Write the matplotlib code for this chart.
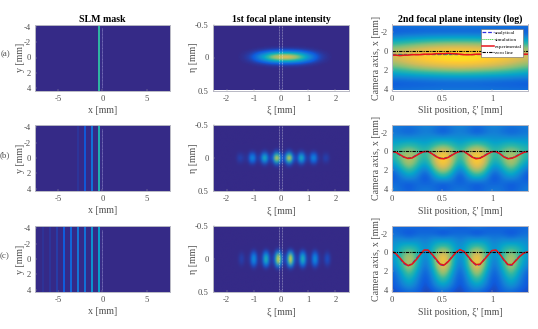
import numpy as np
import matplotlib
matplotlib.use("Agg")
import matplotlib.pyplot as plt
from matplotlib.colors import LinearSegmentedColormap

plt.rcParams['font.family'] = ['Liberation Serif', 'DejaVu Serif']
plt.rcParams['axes.unicode_minus'] = False

parula = LinearSegmentedColormap.from_list("parula", [
    "#352A87", "#0F5CDD", "#1481D6", "#06A4CA", "#2EB7A4",
    "#87BF77", "#D1BB59", "#FEC832", "#F9FB0E"])

row_names = ["(a)", "(b)", "(c)"]

# SLM mask stripes: position [mm], level
mask_x = [
    [-0.4],
    [-0.4, -1.18, -1.97, -2.76],
    [-0.4, -1.18, -1.97, -2.76, -3.55, -4.34, -5.13, -5.9, -6.7],
]
mask_level = [
    [0.5],
    [0.46, 0.2, 0.12, 0.03],
    [0.36, 0.32, 0.2, 0.22, 0.17, 0.13, 0.05, 0.03, 0.025],
]

# 1st focal plane, profiles along xi and eta (eta step 0.05)
focal_xi_start = [-2.55, -2.55, -2.5]
focal_xi = [
    [0, 0, 0, 0, 0, 0, 0, 0.01, 0.03, 0.06, 0.12, 0.22, 0.33, 0.45, 0.6, 0.72, 0.8, 0.86,
     0.88, 0.86, 0.8, 0.72, 0.6, 0.45, 0.33, 0.22, 0.12, 0.06, 0.03, 0.01, 0, 0, 0, 0, 0],
    [0, 0, 0, 0, 0, 0, 0, 0, 0, 0, 0, 0, 0.014, 0.05, 0.07, 0.05, 0.03, 0.022, 0.06, 0.216,
     0.3, 0.216, 0.06, 0.047, 0.096, 0.346, 0.48, 0.346, 0.096, 0.082, 0.176, 0.634, 0.88, 0.634,
     0.176, 0.106, 0.176, 0.634, 0.88, 0.634, 0.176, 0.082, 0.096, 0.346, 0.48, 0.346, 0.096,
     0.047, 0.06, 0.216, 0.3, 0.216, 0.06, 0.022, 0.014, 0.05, 0.07, 0.05, 0.014,
     0, 0, 0, 0, 0, 0, 0, 0, 0, 0],
    [0, 0, 0, 0, 0, 0, 0, 0, 0, 0, 0, 0, 0.007, 0.036, 0.06, 0.036, 0.007, 0.012, 0.038, 0.19,
     0.32, 0.19, 0.038, 0.025, 0.06, 0.3, 0.5, 0.3, 0.06, 0.042, 0.108, 0.54, 0.9, 0.54,
     0.108, 0.054, 0.108, 0.54, 0.9, 0.54, 0.108, 0.042, 0.06, 0.3, 0.5, 0.3, 0.06,
     0.025, 0.038, 0.19, 0.32, 0.19, 0.038, 0.015, 0.012, 0.06, 0.1, 0.06, 0.012,
     0, 0, 0, 0, 0, 0, 0, 0, 0, 0],
]
focal_eta = [
    [0, 0, 0, 0, 0, 0, 0, 0.01, 0.12, 0.6, 1, 0.6, 0.12, 0.01, 0, 0, 0, 0, 0, 0, 0],
    [0, 0, 0, 0, 0, 0, 0, 0.01, 0.1, 0.55, 1, 0.55, 0.1, 0.01, 0, 0, 0, 0, 0, 0, 0],
    [0, 0, 0, 0, 0, 0, 0, 0.05, 0.32, 0.8, 1, 0.8, 0.32, 0.05, 0, 0, 0, 0, 0, 0, 0],
]

# 2nd focal plane (log), x = 0..1.36, camera axis = -2.8..4.2
second_a = [
    [0.24, 0.25, 0.26, 0.27, 0.28, 0.27, 0.26, 0.25, 0.24],
    [0.10, 0.11, 0.12, 0.12, 0.12, 0.12, 0.12, 0.11, 0.10],
    [0.26, 0.30, 0.33, 0.35, 0.36, 0.35, 0.33, 0.30, 0.26],
    [0.50, 0.56, 0.62, 0.65, 0.66, 0.65, 0.62, 0.56, 0.50],
    [0.68, 0.76, 0.82, 0.86, 0.88, 0.86, 0.82, 0.76, 0.68],
    [0.75, 0.85, 0.92, 0.95, 0.97, 0.95, 0.92, 0.85, 0.75],
    [0.65, 0.75, 0.82, 0.86, 0.88, 0.86, 0.82, 0.75, 0.65],
    [0.47, 0.55, 0.60, 0.63, 0.65, 0.63, 0.60, 0.55, 0.47],
    [0.26, 0.29, 0.32, 0.34, 0.35, 0.34, 0.32, 0.29, 0.26],
    [0.10, 0.11, 0.12, 0.13, 0.13, 0.13, 0.12, 0.11, 0.10],
    [0.20, 0.21, 0.22, 0.23, 0.23, 0.23, 0.22, 0.21, 0.20],
]
second_b = [
    [0.26, 0.24, 0.22, 0.25, 0.28, 0.25, 0.20, 0.25, 0.28, 0.25, 0.20, 0.25, 0.28, 0.25, 0.22, 0.24, 0.26],
    [0.20, 0.17, 0.12, 0.18, 0.24, 0.18, 0.08, 0.18, 0.24, 0.18, 0.08, 0.18, 0.24, 0.18, 0.12, 0.17, 0.20],
    [0.30, 0.30, 0.30, 0.31, 0.30, 0.33, 0.33, 0.33, 0.30, 0.33, 0.33, 0.33, 0.30, 0.31, 0.30, 0.30, 0.30],
    [0.40, 0.44, 0.50, 0.44, 0.38, 0.50, 0.58, 0.50, 0.38, 0.50, 0.58, 0.50, 0.38, 0.44, 0.50, 0.44, 0.40],
    [0.48, 0.58, 0.68, 0.58, 0.48, 0.70, 0.82, 0.70, 0.48, 0.70, 0.82, 0.70, 0.48, 0.58, 0.68, 0.58, 0.48],
    [0.42, 0.60, 0.78, 0.60, 0.42, 0.78, 0.95, 0.78, 0.42, 0.78, 0.95, 0.78, 0.42, 0.60, 0.78, 0.60, 0.42],
    [0.30, 0.50, 0.72, 0.50, 0.30, 0.70, 0.90, 0.70, 0.30, 0.70, 0.90, 0.70, 0.30, 0.50, 0.72, 0.50, 0.30],
    [0.14, 0.32, 0.52, 0.34, 0.14, 0.50, 0.70, 0.50, 0.14, 0.50, 0.70, 0.50, 0.14, 0.34, 0.52, 0.32, 0.14],
    [0.08, 0.20, 0.32, 0.22, 0.05, 0.30, 0.42, 0.30, 0.05, 0.30, 0.42, 0.30, 0.05, 0.22, 0.32, 0.20, 0.08],
    [0.20, 0.16, 0.08, 0.18, 0.16, 0.16, 0.08, 0.16, 0.16, 0.16, 0.08, 0.16, 0.16, 0.18, 0.08, 0.16, 0.20],
    [0.24, 0.20, 0.14, 0.20, 0.24, 0.20, 0.14, 0.20, 0.24, 0.20, 0.14, 0.20, 0.24, 0.20, 0.14, 0.20, 0.24],
]
second_c = [
    [0.18, 0.18, 0.22, 0.18, 0.14, 0.20, 0.28, 0.20, 0.14, 0.20, 0.28, 0.20, 0.14, 0.18, 0.22, 0.18, 0.18],
    [0.18, 0.14, 0.05, 0.14, 0.16, 0.12, 0.04, 0.12, 0.16, 0.12, 0.04, 0.12, 0.16, 0.14, 0.05, 0.14, 0.18],
    [0.26, 0.28, 0.24, 0.28, 0.22, 0.32, 0.30, 0.32, 0.22, 0.32, 0.30, 0.32, 0.22, 0.28, 0.24, 0.28, 0.26],
    [0.30, 0.40, 0.46, 0.40, 0.26, 0.44, 0.54, 0.44, 0.26, 0.44, 0.54, 0.44, 0.26, 0.40, 0.46, 0.40, 0.30],
    [0.30, 0.50, 0.66, 0.50, 0.22, 0.56, 0.80, 0.56, 0.22, 0.56, 0.80, 0.56, 0.22, 0.50, 0.66, 0.50, 0.30],
    [0.28, 0.50, 0.80, 0.50, 0.16, 0.60, 0.97, 0.60, 0.16, 0.60, 0.97, 0.60, 0.16, 0.50, 0.80, 0.50, 0.28],
    [0.24, 0.44, 0.78, 0.44, 0.12, 0.54, 0.92, 0.54, 0.12, 0.54, 0.92, 0.54, 0.12, 0.44, 0.78, 0.44, 0.24],
    [0.12, 0.34, 0.64, 0.34, 0.08, 0.42, 0.78, 0.42, 0.08, 0.42, 0.78, 0.42, 0.08, 0.34, 0.64, 0.34, 0.12],
    [0.10, 0.26, 0.48, 0.26, 0.06, 0.32, 0.58, 0.32, 0.06, 0.32, 0.58, 0.32, 0.06, 0.26, 0.48, 0.26, 0.10],
    [0.10, 0.20, 0.36, 0.20, 0.06, 0.24, 0.40, 0.24, 0.06, 0.24, 0.40, 0.24, 0.06, 0.20, 0.36, 0.20, 0.10],
    [0.08, 0.10, 0.16, 0.14, 0.05, 0.10, 0.18, 0.10, 0.05, 0.14, 0.18, 0.10, 0.05, 0.14, 0.16, 0.10, 0.08],
]
second_grids = [second_a, second_b, second_c]

# Line cuts, one value every 0.04 mm of slit position
slit_x = np.arange(35) * 0.04
exp_a = [0.45, 0.45, 0.5, 0.45, 0.45, 0.4, 0.4, 0.4, 0.35, 0.35, 0.35, 0.3, 0.3, 0.3, 0.25, 0.3, 0.3, 0.35,
         0.4, 0.4, 0.4, 0.35, 0.35, 0.4, 0.35, 0.35, 0.35, 0.35, 0.35, 0.35, 0.35, 0.3, 0.35, 0.35, 0.35]
ana_a = [0.35] * 35
sim_a = [0.3] * 35
exp_b = [0.0, 0.1, 0.35, 0.6, 0.75, 0.7, 0.45, 0.2, 0.02, 0.0, 0.25, 0.55, 0.75, 0.78, 0.65, 0.4, 0.15, 0.0,
         0.0, 0.3, 0.6, 0.78, 0.72, 0.5, 0.25, 0.03, 0.02, 0.25, 0.6, 0.78, 0.72, 0.55, 0.3, 0.1, 0.0]
ana_b = [0.0, 0.15, 0.4, 0.62, 0.72, 0.65, 0.42, 0.18, 0.03, 0.03, 0.22, 0.5, 0.72, 0.75, 0.6, 0.36, 0.12, 0.0,
         0.03, 0.26, 0.55, 0.74, 0.7, 0.45, 0.2, 0.03, 0.05, 0.28, 0.55, 0.74, 0.7, 0.5, 0.25, 0.08, 0.0]
sim_b = [0.02, 0.12, 0.36, 0.6, 0.7, 0.66, 0.44, 0.2, 0.04, 0.02, 0.22, 0.52, 0.7, 0.74, 0.62, 0.38, 0.14, 0.02,
         0.02, 0.28, 0.56, 0.72, 0.7, 0.48, 0.22, 0.04, 0.04, 0.26, 0.56, 0.72, 0.68, 0.52, 0.26, 0.08, 0.02]
exp_c = [-0.1, 0.15, 0.6, 1.1, 1.4, 1.25, 0.8, 0.25, -0.25, -0.25, 0.2, 0.7, 1.25, 1.35, 1.0, 0.5, 0.0, -0.3,
         -0.1, 0.4, 0.95, 1.3, 1.25, 0.8, 0.3, -0.2, -0.25, 0.2, 0.8, 1.3, 1.3, 0.85, 0.4, 0.05, -0.05]
ana_c = [-0.15, 0.2, 0.7, 1.2, 1.45, 1.2, 0.7, 0.2, -0.2, -0.2, 0.25, 0.8, 1.3, 1.4, 0.95, 0.45, 0.02, -0.25,
         -0.05, 0.45, 1.0, 1.35, 1.3, 0.75, 0.25, -0.18, -0.2, 0.25, 0.85, 1.35, 1.35, 0.8, 0.35, 0.08, 0.0]
sim_c = [-0.2, 0.1, 0.65, 1.15, 1.35, 1.3, 0.75, 0.3, -0.2, -0.2, 0.15, 0.75, 1.2, 1.3, 1.05, 0.55, 0.05, -0.25,
         -0.1, 0.35, 0.9, 1.25, 1.3, 0.85, 0.35, -0.15, -0.2, 0.15, 0.75, 1.25, 1.25, 0.9, 0.45, 0.1, -0.05]
exp_lines = [exp_a, exp_b, exp_c]
ana_lines = [ana_a, ana_b, ana_c]
sim_lines = [sim_a, sim_b, sim_c]

W, H = 538, 329
rows_px = [(24.5, 90.5), (125, 191), (226, 292)]
cols_px = [(35, 170), (213, 349), (392, 528)]
tick_gray = "#505050"
frame = "#b8b8c4"


def px_axes(fig, col, row):
    x0, x1 = cols_px[col]
    y0, y1 = rows_px[row]
    return fig.add_axes([x0 / W, 1 - y1 / H, (x1 - x0) / W, (y1 - y0) / H])


def style(ax):
    for s in ax.spines.values():
        s.set_color(frame)
        s.set_linewidth(0.7)
    ax.tick_params(direction="in", length=1.2, width=0.3, color="#aaaaaa",
                   labelsize=6.2, labelcolor=tick_gray, pad=3)


fig = plt.figure(figsize=(W / 100, H / 100), dpi=100)

for r in range(3):
    # SLM mask
    ax = px_axes(fig, 0, r)
    ax.set_facecolor(parula(0.0))
    ax.vlines(mask_x[r], -4.3, 4.3, colors=parula(np.array(mask_level[r])), lw=1.4)
    ax.vlines([0], -3.8, 4.0, colors="#8d86c9", lw=0.5, ls=(0, (1.5, 0.5)))
    ax.set_xlim(-7.6, 7.6)
    ax.set_ylim(4.3, -4.3)
    ax.set_xticks([-5, 0, 5])
    ax.set_yticks([-4, -2, 0, 2, 4])
    ax.set_xlabel("x [mm]", fontsize=7.2, color=tick_gray, labelpad=2.2)
    ax.set_ylabel("y [mm]", fontsize=7.2, color=tick_gray, labelpad=-1)
    style(ax)
    if r == 0:
        ax.set_title("SLM mask", fontsize=7.1, fontweight="bold", pad=0.5)
    fig.text(5 / W, 1 - (sum(rows_px[r]) / 2 - 3) / H, row_names[r], fontsize=6.4,
             color=tick_gray, ha="center", va="center")

    # 1st focal plane
    ax = px_axes(fig, 1, r)
    field = np.outer(focal_eta[r], focal_xi[r])
    xs = focal_xi_start[r]
    step = 5.1 / (len(focal_xi[r]) - 1)
    ax.imshow(field, cmap=parula, vmin=0, vmax=1, aspect="auto", interpolation="bicubic",
              extent=(xs - step / 2, xs + 5.1 + step / 2, 0.525, -0.525))
    ax.vlines([-0.07, 0.05], -0.5, 0.5, colors="white", lw=0.45, ls=(0, (1.5, 1)), alpha=0.6)
    ax.set_xlim(-2.5, 2.5)
    ax.set_ylim(0.5, -0.5)
    ax.set_xticks([-2, -1, 0, 1, 2])
    ax.set_yticks([-0.5, 0, 0.5])
    ax.set_yticklabels(["-0.5", "0", "0.5"])
    ax.set_xlabel("ξ [mm]", fontsize=7.2, color=tick_gray, labelpad=2.2)
    ax.set_ylabel("η [mm]", fontsize=7.2, color=tick_gray, labelpad=-2)
    style(ax)
    if r == 0:
        ax.set_title("1st focal plane intensity", fontsize=7.1, fontweight="bold", pad=0.5)

    # 2nd focal plane
    ax = px_axes(fig, 2, r)
    grid = np.array(second_grids[r])
    dx = 1.36 / (grid.shape[1] - 1) / 2
    ax.imshow(grid, cmap=parula, vmin=0, vmax=1, aspect="auto", interpolation="bicubic",
              extent=(-dx, 1.36 + dx, 4.55, -3.15))
    ax.plot(slit_x, ana_lines[r], color="#3030e0", lw=0.9, ls=(0, (3, 1.5)), label="analytical")
    ax.plot(slit_x, sim_lines[r], color="#20c020", lw=0.7, ls=(0, (1, 1)), label="simulation")
    ax.plot(slit_x, exp_lines[r], color="#e8141c", lw=1.1, label="experimental")
    ax.plot([0, 1.36], [0, 0], color="black", lw=0.8, ls=(0, (3, 1, 1, 1)), label="zero line")
    ax.set_xlim(0, 1.36)
    ax.set_ylim(4.2, -2.8)
    ax.set_xticks([0, 0.5, 1])
    ax.set_xticklabels(["0", "0.5", "1"])
    ax.set_yticks([-2, 0, 2, 4])
    ax.set_xlabel("Slit position, ξ' [mm]", fontsize=7.2, color=tick_gray, labelpad=2.2)
    ax.set_ylabel("Camera axis, x [mm]", fontsize=7.2, color=tick_gray, labelpad=0)
    style(ax)
    if r == 0:
        ax.set_title("2nd focal plane intensity (log)", fontsize=7.1, fontweight="bold", pad=0.5)
        leg = ax.legend(loc="upper right", fontsize=3.7, fancybox=False, framealpha=1,
                        edgecolor="#666666", borderpad=0.25, labelspacing=0.42,
                        handlelength=2.2, handletextpad=0.25, bbox_to_anchor=(0.965, 0.93),
                        borderaxespad=0)
        leg.get_frame().set_linewidth(0.4)

fig.savefig("out.png", dpi=100)
